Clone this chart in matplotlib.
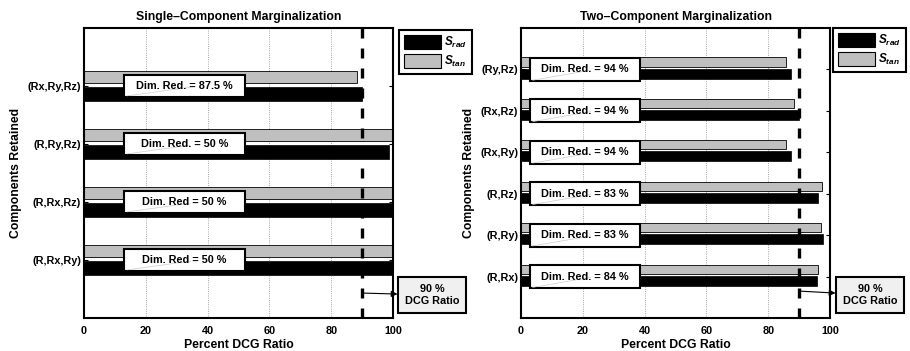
import numpy as np
import matplotlib
matplotlib.use("Agg")
from matplotlib import pyplot as plt
from matplotlib.patches import Rectangle, Patch

plt.rcParams['font.family'] = ['Liberation Sans', 'DejaVu Sans']
plt.rcParams['font.weight'] = 'bold'
plt.rcParams['axes.titleweight'] = 'bold'
plt.rcParams['axes.labelweight'] = 'bold'
plt.rcParams['mathtext.fontset'] = 'custom'
plt.rcParams['mathtext.rm'] = 'Liberation Sans'
plt.rcParams['mathtext.it'] = 'Liberation Sans:italic'
plt.rcParams['mathtext.bf'] = 'Liberation Sans:bold'
plt.rcParams['mathtext.bfit'] = 'Liberation Sans:bold:italic'

# data, top to bottom
single_labels = ['(Rx,Ry,Rz)', '(R,Ry,Rz)', '(R,Rx,Rz)', '(R,Rx,Ry)']
single_rad = [90.0, 98.7, 100.0, 100.0]
single_tan = [88.2, 100.0, 100.0, 100.0]
single_dimred = ['Dim. Red. = 87.5 %', 'Dim. Red. = 50 %', 'Dim. Red = 50 %', 'Dim. Red = 50 %']

two_labels = ['(Ry,Rz)', '(Rx,Rz)', '(Rx,Ry)', '(R,Rz)', '(R,Ry)', '(R,Rx)']
two_rad = [87.4, 90.1, 87.4, 96.0, 97.8, 95.7]
two_tan = [85.6, 88.4, 85.9, 97.5, 97.0, 96.2]
two_dimred = ['Dim. Red. = 94 %', 'Dim. Red. = 94 %', 'Dim. Red. = 94 %',
              'Dim. Red. = 83 %', 'Dim. Red. = 83 %', 'Dim. Red. = 84 %']

threshold = 90
GRAY = '#bfbfbf'
FS = 7.8

fig = plt.figure(figsize=(9.1, 3.51), dpi=100)
ax1 = fig.add_axes([84/910, 1-318/351, 309/910, 290/351])
ax2 = fig.add_axes([521/910, 1-318/351, 309/910, 290/351])


def panel(ax, labels, rad, tan, dimred, title, off_rad, off_tan, h_rad, h_tan,
          box_x, box_w, box_h, arrow_y, leg_xy, note_xy):
    n = len(labels)
    y = np.arange(n, 0, -1)
    ax.barh(y - off_rad, rad, height=h_rad, color='k', edgecolor='k', lw=0.5, zorder=2)
    ax.barh(y + off_tan, tan, height=h_tan, color=GRAY, edgecolor='k', lw=0.6, zorder=2)
    for yi, s in zip(y, dimred):
        ax.add_patch(Rectangle((box_x, yi - box_h/2), box_w, box_h, fc='white',
                               ec='k', lw=1.5, zorder=4))
        ax.plot([box_x + 1, box_x + box_w*0.55], [yi - box_h/2 + 0.02, yi - 0.02],
                color='#cccccc', lw=0.5, zorder=5)
        ax.text(box_x + box_w/2, yi, s, ha='center', va='center', fontsize=FS, zorder=6)
    ax.axvline(threshold, color='k', lw=2.4, ls=(0, (3, 3)), zorder=3)
    ax.set_xlim(0, 100)
    ax.set_ylim(0, n + 1)
    ax.set_yticks(y)
    ax.set_yticklabels(labels, fontsize=FS)
    ax.set_xticks([0, 20, 40, 60, 80, 100])
    ax.tick_params(axis='x', labelsize=FS, direction='in', length=0, pad=6)
    ax.tick_params(axis='y', direction='in', length=3, right=True, left=True, pad=2)
    ax.xaxis.grid(True, ls=':', color='#888888', lw=0.6, zorder=0)
    ax.set_axisbelow(True)
    for sp in ax.spines.values():
        sp.set_linewidth(1.5)
    ax.set_title(title, fontsize=8.8, pad=6)
    ax.set_xlabel('Percent DCG Ratio', fontsize=8.8, labelpad=2)
    ax.set_ylabel('Components Retained', fontsize=8.8, labelpad=4)
    handles = [Patch(fc='k', ec='k', lw=0.8), Patch(fc=GRAY, ec='k', lw=0.8)]
    leg = ax.legend(handles, [r'$\mathbfit{S}_{\mathit{rad}}$', r'$\mathbfit{S}_{\mathit{tan}}$'],
                    loc='upper left', bbox_to_anchor=leg_xy,
                    bbox_transform=fig.transFigure, fancybox=False, framealpha=1,
                    edgecolor='k', fontsize=8.5, handlelength=3.1, handleheight=1.45,
                    handletextpad=0.25, borderpad=0.45, labelspacing=0.3,
                    borderaxespad=0)
    leg.get_frame().set_linewidth(1.5)
    ax.annotate('90 %\nDCG Ratio', xy=(threshold, arrow_y), xycoords='data',
                xytext=note_xy, textcoords='figure fraction', ha='center', va='center',
                fontsize=FS, linespacing=1.35,
                bbox=dict(boxstyle='square,pad=0.6', fc='#f0f0f0', ec='k', lw=1.5),
                arrowprops=dict(arrowstyle='<|-', color='k', lw=0.8, shrinkA=0, shrinkB=0,
                                mutation_scale=9))


panel(ax1, single_labels, single_rad, single_tan, single_dimred,
      'Single\u2013Component Marginalization', 0.13, 0.16, 0.24, 0.21,
      13.0, 39.0, 0.38, 0.43, (399/910, 1-30/351), (432/910, 1-295/351))
panel(ax2, two_labels, two_rad, two_tan, two_dimred,
      'Two\u2013Component Marginalization', 0.10, 0.18, 0.24, 0.22,
      2.8, 35.8, 0.56, 0.65, (833/910, 1-28/351), (870/910, 1-295/351))

fig.savefig('out.png', dpi=100)
